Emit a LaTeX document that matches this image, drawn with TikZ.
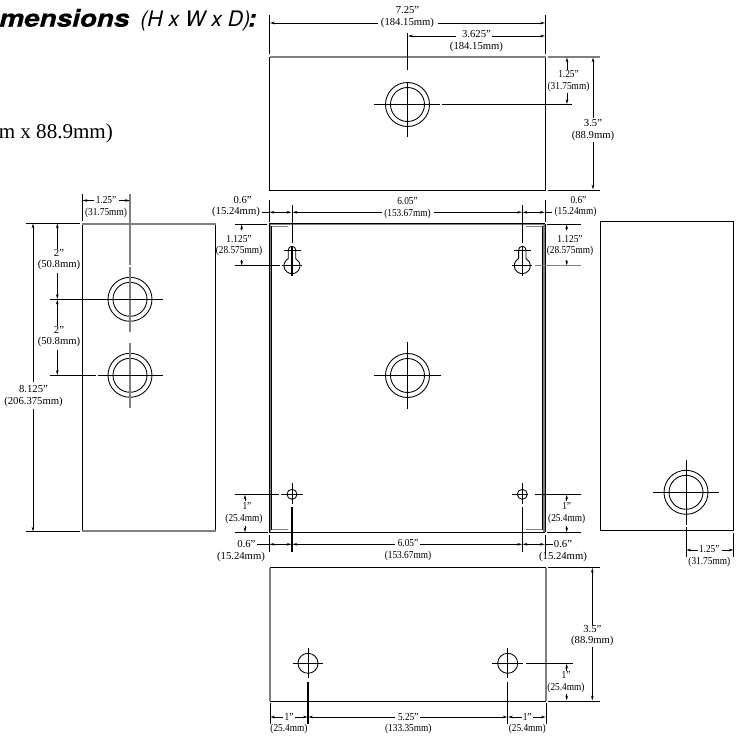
\documentclass[tikz,border=0pt]{standalone}
\usepackage{fontspec}
\setmainfont{Liberation Serif}
\newfontfamily\headfont[BoldItalicFeatures={FakeBold=0.5}]{TeX Gyre Heros}
\usetikzlibrary{arrows.meta}
\tikzset{
  part/.style={black, line width=0.65pt},
  edge/.style={black!50, line width=1.4pt},
  aux/.style={black, line width=0.6pt},
  dimline/.style={black, line width=0.55pt},
  >={Stealth[length=3.6pt,width=2pt]},
  dimlabel/.style={font=\fontsize{8}{8.7}\selectfont, align=center, inner sep=0pt},
  dimsmall/.style={dimlabel, xscale=0.875},
}
\begin{document}
\begin{tikzpicture}[x=0.75pt, y=-0.75pt]
\useasboundingbox (0,0) rectangle (735,738);

\coordinate (T) at (407.5,104.5);
\coordinate (LA) at (130,299.3);
\coordinate (LB) at (130,375.3);
\coordinate (M) at (407.5,375.5);
\coordinate (R) at (686,492.3);
\coordinate (BA) at (308,663.3);
\coordinate (BB) at (507.7,663.3);
\coordinate (SA) at (292,494.3);
\coordinate (SB) at (522.3,494.3);

% heading and text cut off at the left edge
\node[anchor=base west, inner sep=0pt, xscale=1.16, font=\headfont\fontsize{18}{18}\selectfont\bfseries\itshape] (head) at (-1,26.7) {mensions};
\node[anchor=base west, inner sep=0pt, font=\headfont\fontsize{16}{16}\selectfont\itshape] (headb) at (140,26.7) {(H x W x D)};
\node[anchor=base west, inner sep=0pt, font=\headfont\fontsize{18}{18}\selectfont\bfseries\itshape] (headc) at (248,26.7) {:};
\node[anchor=base west, inner sep=0pt, font=\fontsize{15.8}{15.8}\selectfont] (size) at (-1.5,139) {m x 88.9mm)};

% top view
\draw[part] (269.5,57) rectangle (545.5,190);
\draw[edge, line width=1pt] (269.5,57) -- (545.5,57);
\draw[part] (T) circle (22);
\draw[part] (T) circle (17);
\draw[aux] (269.5,15) -- (269.5,54);
\draw[aux] (545.5,15) -- (545.5,54);
\draw[aux] (407.5,33) -- (407.5,70);
\draw[aux] (407.5,82) -- (407.5,137);
\draw[aux] (374,104.5) -- (440,104.5);
\draw[aux] (442,104.5) -- (572,104.5);
\draw[edge, line width=1pt] (547.5,57) -- (600,57);
\draw[aux] (547.5,190) -- (600,190);
\draw[dimline, <-] (270,23) -- (378,23);
\draw[dimline, ->] (438,23) -- (545,23);
\node[dimlabel] (topw) at (407.5,17) {7.25”\\(184.15mm)};
\draw[dimline, <-] (408,36) -- (456,36);
\draw[dimline, ->] (492,36) -- (545,36);
\node[dimlabel] (topc) at (476.5,41) {3.625”\\(184.15mm)};
\draw[dimline, <-] (567,57.5) -- (567,70);
\draw[dimline, ->] (567,93) -- (567,104);
\node[dimsmall] (topa) at (568.5,81) {1.25”\\(31.75mm)};
\draw[dimline, <-] (593,57.5) -- (593,118);
\draw[dimline, ->] (593,142) -- (593,189.5);
\node[dimlabel] (toph) at (593,130) {3.5”\\(88.9mm)};

% left view
\draw[part] (82.3,223.3) rectangle (215.7,531.7);
\draw[edge] (82.3,224.2) -- (215.7,224.2);
\draw[edge] (82.3,530.8) -- (215.7,530.8);
\draw[part] (LA) circle (22);
\draw[part] (LA) circle (17);
\draw[part] (LB) circle (22);
\draw[part] (LB) circle (17);
\draw[aux] (82.3,194) -- (82.3,221);
\draw[edge, line width=0.8pt] (130,194) -- (130,265);
\draw[edge, line width=0.8pt] (130,267) -- (130,331.7);
\draw[edge, line width=0.8pt] (130,343) -- (130,408);
\draw[aux] (50,299.3) -- (163,299.3);
\draw[aux] (50,375.3) -- (96,375.3);
\draw[aux] (97.5,375.3) -- (163,375.3);
\draw[aux] (26,223.3) -- (80,223.3);
\draw[aux] (26,531.7) -- (80,531.7);
\draw[dimline, <-] (33,223.5) -- (33,382);
\draw[dimline, ->] (33,409) -- (33,531.5);
\node[dimlabel] (lefth) at (33.5,396) {8.125”\\(206.375mm)};
\draw[dimline, <-] (57.3,223.5) -- (57.3,249);
\draw[dimline, ->] (57.3,272.7) -- (57.3,299);
\node[dimlabel] (lefta) at (59,259.5) {2”\\(50.8mm)};
\draw[dimline, <-] (57.3,299.6) -- (57.3,326);
\draw[dimline, ->] (57.3,350) -- (57.3,375);
\node[dimlabel] (leftb) at (59,336.7) {2”\\(50.8mm)};
\draw[dimline, <-] (82.5,200.5) -- (94,200.5);
\draw[dimline, ->] (119,200.5) -- (129.8,200.5);
\node[dimsmall] (leftw) at (106,207) {1.25”\\(31.75mm)};

% middle view
\draw[edge] (270.5,224.5) -- (270.5,531.5);
\draw[edge] (543.8,224.5) -- (543.8,531.5);
\draw[edge] (269.3,224.5) -- (545,224.5);
\draw[part] (269.3,223.5) -- (545,223.5);
\draw[part] (269.3,223.5) -- (269.3,532);
\draw[part] (545,223.5) -- (545,532);
\draw[part] (271.7,226) -- (271.7,530);
\draw[part] (542.6,226) -- (542.6,530);
\draw[part] (269.3,532) -- (545,532);
\draw[edge] (272,226.5) -- (288.3,226.5);
\draw[edge] (526,226.5) -- (542,226.5);
\draw[edge] (272,529.5) -- (288.3,529.5);
\draw[edge] (526,529.5) -- (542,529.5);
\draw[part] (M) circle (22);
\draw[part] (M) circle (17);
\draw[aux] (374,375.5) -- (441,375.5);
\draw[aux] (407.5,342) -- (407.5,409);
% keyholes
\foreach \kx in {292,522.3} {
  \draw[part, shift={(\kx,265.7)}] (-3.7,-7.1) arc[start angle=242.5, end angle=-62.5, radius=8] -- (3.7,-15.7) arc[start angle=0, end angle=-180, radius=3.7] -- cycle;
  \draw[aux] (\kx-8.5,250) -- (\kx+8.5,250);
  \draw[aux, line width=0.8pt] (\kx-10,265.7) -- (\kx+10,265.7);
  \draw[aux, line width=0.9pt] (\kx,246.7) -- (\kx,276);
  \draw[aux] (\kx,205) -- (\kx,243);
}
\draw[aux] (235,265.7) -- (280,265.7);
\draw[edge, line width=0.8pt] (535,265.7) -- (581,265.7);
\draw[aux] (235,224) -- (267,224);
\draw[aux] (547,224) -- (581,224);
% small holes
\draw[part] (SA) circle (5);
\draw[part] (SB) circle (5);
\draw[aux] (280.7,494.3) -- (303,494.3);
\draw[aux] (292,483) -- (292,504);
\draw[aux, line width=0.8pt] (292,506.7) -- (292,551.7);
\draw[aux] (511.7,494.3) -- (528.3,494.3);
\draw[aux] (522.3,483) -- (522.3,504);
\draw[aux] (522.3,506.7) -- (522.3,551.7);
\draw[aux] (235,494.3) -- (279.3,494.3);
\draw[aux] (535,494.3) -- (581,494.3);
\draw[aux] (235,532.7) -- (268,532.7);
\draw[aux] (547,532.7) -- (581,532.7);
% extension lines at the corners
\draw[aux] (269.3,200) -- (269.3,222);
\draw[aux] (545,200) -- (545,222);
\draw[aux] (269.3,535) -- (269.3,551.7);
\draw[aux] (545,535) -- (545,555);
% upper dimensions
\draw[dimline] (262.3,212.3) -- (269.3,212.3);
\draw[dimline, <->] (269.5,212.3) -- (291.5,212.3);
\draw[dimline, <-] (292.5,212.3) -- (381.7,212.3);
\draw[dimline, ->] (434,212.3) -- (522,212.3);
\draw[dimline, <->] (522.6,212.3) -- (544.8,212.3);
\draw[dimline] (545,212.3) -- (552,212.3);
\node[dimlabel] (upa) at (236,206.5) {\hspace*{10pt}0.6”\\(15.24mm)};
\node[dimsmall] (upb) at (407.5,208) {6.05”\\(153.67mm)};
\node[dimsmall] (upc) at (575.5,206.5) {\hspace*{5pt}0.6”\\(15.24mm)};
\draw[dimline, ->] (241.7,229.5) -- (241.7,224.5);
\draw[dimline, ->] (241.7,260) -- (241.7,265.5);
\node[dimsmall] (upd) at (239,245.5) {1.125”\\(28.575mm)};
\draw[dimline, ->] (566.7,229.5) -- (566.7,224.5);
\draw[dimline, ->] (566.7,260) -- (566.7,265.5);
\node[dimsmall] (upe) at (570,245.5) {1.125”\\(28.575mm)};
% lower dimensions
\draw[dimline, <-] (245,494.8) -- (245,501);
\draw[dimline, ->] (245,526) -- (245,532.2);
\node[dimsmall] (lowa) at (244,513) {\hspace*{5pt}1”\\(25.4mm)};
\draw[dimline, <-] (566.7,494.8) -- (566.7,501);
\draw[dimline, ->] (566.7,526) -- (566.7,532.2);
\node[dimsmall] (lowb) at (566.7,513) {1”\\(25.4mm)};
\draw[dimline] (256.7,544.3) -- (269.3,544.3);
\draw[dimline, <->] (269.5,544.3) -- (291.5,544.3);
\draw[dimline, <-] (292.5,544.3) -- (395,544.3);
\draw[dimline, ->] (420,544.3) -- (522,544.3);
\draw[dimline, <->] (522.6,544.3) -- (544.8,544.3);
\draw[dimline] (545,544.3) -- (553,544.3);
\node[dimlabel] (lowc) at (241,551) {\hspace*{8pt}0.6”\\(15.24mm)};
\node[dimsmall] (lowd) at (408,550) {6.05”\\(153.67mm)};
\node[dimlabel] (lowe) at (563,551) {0.6”\\(15.24mm)};

% right view
\draw[part] (600.3,221) rectangle (733.7,530.7);
\draw[part] (R) circle (22);
\draw[part] (R) circle (17);
\draw[aux] (653.3,492.3) -- (718.7,492.3);
\draw[aux] (686,460) -- (686,525);
\draw[aux] (686,527.3) -- (686,556.7);
\draw[aux] (733.7,532.7) -- (733.7,556.7);
\draw[dimline, <-] (686.3,550) -- (698.3,550);
\draw[dimline, ->] (721.7,550) -- (733.4,550);
\node[dimsmall] (rightw) at (709.3,556) {1.25”\\(31.75mm)};

% bottom view
\draw[edge, line width=0.8pt] (270,567.7) -- (270,701);
\draw[edge, line width=0.8pt] (546,567.7) -- (546,701);
\draw[part] (270,567.7) -- (546,567.7);
\draw[part] (270,701) -- (546,701);
\draw[part] (BA) circle (10);
\draw[part] (BB) circle (10);
\draw[aux] (292.7,663.3) -- (323.3,663.3);
\draw[aux] (492.3,663.3) -- (523.3,663.3);
\draw[aux] (525.7,663.3) -- (573.3,663.3);
\draw[aux] (308,648.3) -- (308,678);
\draw[aux, line width=0.9pt] (308,681.7) -- (308,724.3);
\draw[aux] (507.7,648.3) -- (507.7,678);
\draw[aux, line width=0.9pt] (507.7,681.7) -- (507.7,724.3);
\draw[aux] (548.3,567.7) -- (600,567.7);
\draw[aux] (547.7,701) -- (600,701);
\draw[aux] (270,703.3) -- (270,724.3);
\draw[aux] (546,703.3) -- (546,724.3);
\draw[dimline, <-] (592.3,568) -- (592.3,625);
\draw[dimline, ->] (592.3,647) -- (592.3,700.5);
\node[dimlabel] (both) at (592.3,635.5) {3.5”\\(88.9mm)};
\draw[dimline, <-] (566.7,663.8) -- (566.7,671);
\draw[dimline, ->] (566.7,694) -- (566.7,700.5);
\node[dimsmall] (bota) at (566,682) {1”\\(25.4mm)};
\draw[dimline, <-] (270.3,717) -- (283.3,717);
\draw[dimline, ->] (295,717) -- (307.7,717);
\draw[dimline, <-] (308.3,717) -- (395,717);
\draw[dimline, ->] (420,717) -- (507.4,717);
\draw[dimline, <-] (508,717) -- (521.7,717);
\draw[dimline, ->] (532.7,717) -- (545.7,717);
\node[dimsmall] (botb) at (289,723.5) {1”\\(25.4mm)};
\node[dimsmall] (botc) at (408.3,723.5) {5.25”\\(133.35mm)};
\node[dimsmall] (botd) at (527.3,723.5) {1”\\(25.4mm)};
\end{tikzpicture}
\end{document}
